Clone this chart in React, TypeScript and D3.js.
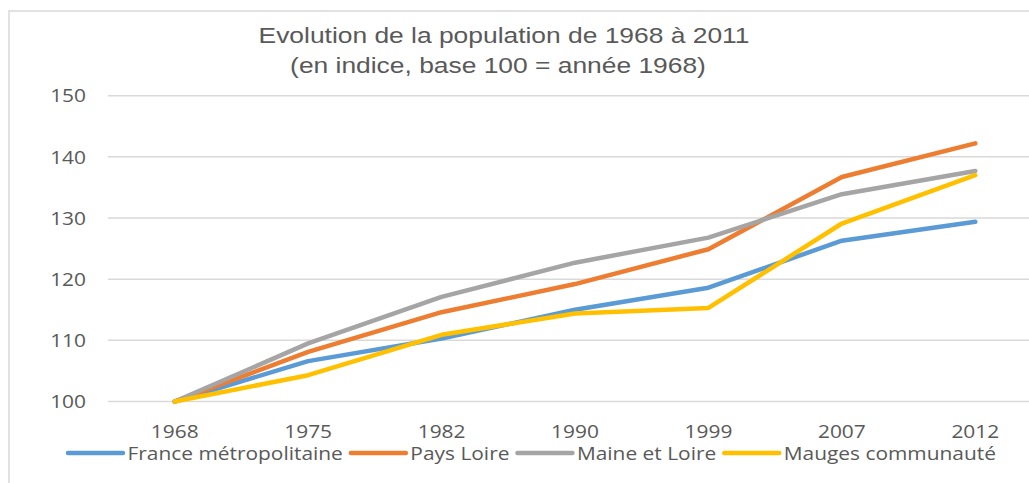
import { useEffect, useRef } from 'react';
import * as d3 from 'd3';

const years = ['1968', '1975', '1982', '1990', '1999', '2007', '2012'];
const france = [100, 106.6, 110.3, 115.0, 118.6, 126.3, 129.4];
const paysLoire = [100, 108.1, 114.6, 119.2, 124.9, 136.7, 142.2];
const maineLoire = [100, 109.5, 117.1, 122.7, 126.8, 133.9, 137.7];
const mauges = [100, 104.3, 110.9, 114.4, 115.3, 129.1, 137.0];
const seriesNames = ['France métropolitaine', 'Pays Loire', 'Maine et Loire', 'Mauges communauté'];
const colors = ['#5B9BD5', '#ED7D31', '#A5A5A5', '#FFC000'];
const yTicks = [100, 110, 120, 130, 140, 150];
const titleLines = ['Evolution de la population de 1968 à 2011', '(en indice, base 100 = année 1968)'];

const W = 1029;
const H = 483;
const labelFont = '"Open Sans", sans-serif';
// the reference is a bit stretched horizontally
const labelSx = 1.1;
const titleSx = 1.2;

const App = () => {
  const ref = useRef<SVGSVGElement>(null);

  useEffect(() => {
    document.body.style.margin = '0';
    const svg = d3.select(ref.current);
    svg.selectAll('*').remove();

    const series = [france, paysLoire, maineLoire, mauges];

    const x = d3.scalePoint<string>().domain(years).range([108, 1042]).padding(0.5);
    const y = d3.scaleLinear().domain([100, 150]).range([401.5, 95.7]);

    // chart frame
    svg.append('rect')
      .attr('x', 9).attr('y', 11)
      .attr('width', 1100).attr('height', 600)
      .attr('fill', 'none').attr('stroke', '#d9d9d9').attr('stroke-width', 1.5);

    // title
    svg.append('g').selectAll('text').data(titleLines).join('text')
      .attr('transform', (_, i) => `translate(${i === 0 ? 504 : 498},${43.3 + i * 30}) scale(${titleSx},1)`)
      .attr('text-anchor', 'middle')
      .attr('font-family', '"Liberation Sans", Arial, sans-serif')
      .attr('font-size', 22)
      .attr('fill', '#595959')
      .text(d => d);

    // gridlines
    svg.append('g').selectAll('line').data(yTicks).join('line')
      .attr('x1', 108).attr('x2', W + 20)
      .attr('y1', d => y(d)).attr('y2', d => y(d))
      .attr('stroke', '#d9d9d9').attr('stroke-width', 1.5);

    // y labels
    svg.append('g').selectAll('text').data(yTicks).join('text')
      .attr('transform', d => `translate(86,${y(d)}) scale(${labelSx},1)`)
      .attr('dy', '0.35em')
      .attr('text-anchor', 'end')
      .attr('font-family', labelFont)
      .attr('font-size', 19)
      .attr('fill', '#595959')
      .text(d => d);

    // x labels
    svg.append('g').selectAll('text').data(years).join('text')
      .attr('transform', d => `translate(${x(d)},438) scale(${labelSx},1)`)
      .attr('text-anchor', 'middle')
      .attr('font-family', labelFont)
      .attr('font-size', 19)
      .attr('fill', '#595959')
      .text(d => d);

    // lines
    const line = d3.line<number>()
      .x((_, i) => x(years[i])!)
      .y(d => y(d));

    svg.append('g').selectAll('path').data(series).join('path')
      .attr('d', d => line(d))
      .attr('fill', 'none')
      .attr('stroke', (_, i) => colors[i])
      .attr('stroke-width', 4.5)
      .attr('stroke-linecap', 'round')
      .attr('stroke-linejoin', 'round');

    // legend
    const legend = svg.append('g');
    let lx = 68;
    const ly = 453;
    seriesNames.forEach((name, i) => {
      legend.append('line')
        .attr('x1', lx).attr('x2', lx + 55)
        .attr('y1', ly).attr('y2', ly)
        .attr('stroke', colors[i]).attr('stroke-width', 4.5)
        .attr('stroke-linecap', 'round');
      const t = legend.append('text')
        .attr('transform', `translate(${lx + 59.5},${ly}) scale(${labelSx},1)`)
        .attr('dy', '0.35em')
        .attr('font-family', labelFont)
        .attr('font-size', 19)
        .attr('fill', '#595959')
        .text(name);
      const w = (t.node() as SVGTextElement).getComputedTextLength() * labelSx;
      lx += 59.5 + w + 8;
    });
  }, []);

  return <svg ref={ref} width={W} height={H} style={{ display: 'block', background: '#fff' }} />;
};

export default App;
